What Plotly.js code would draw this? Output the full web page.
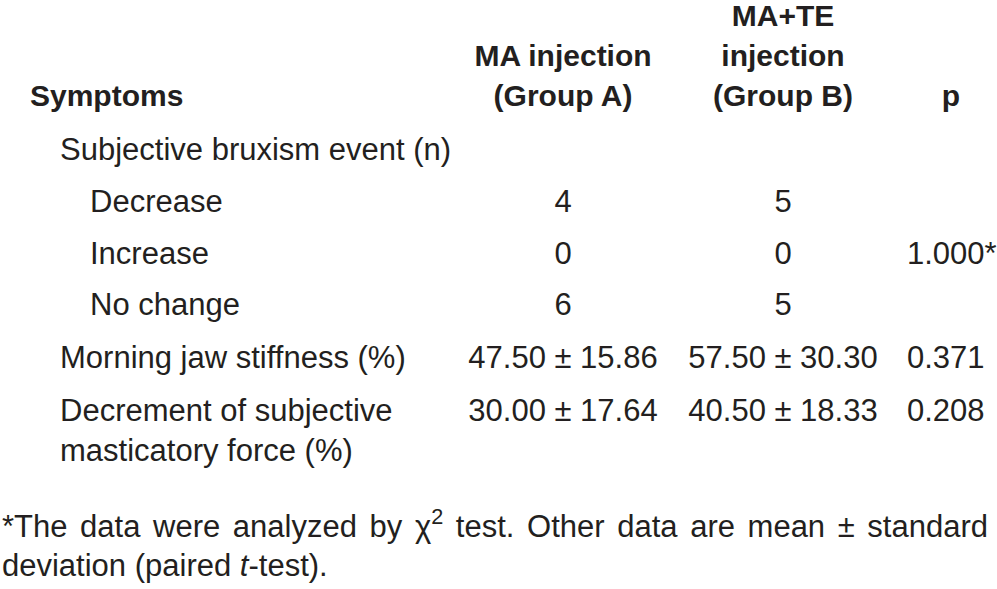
<!DOCTYPE html>
<html>
<head>
<meta charset="utf-8">
<script src="https://cdn.plot.ly/plotly-3.0.1.min.js"></script>
<style>
  html, body { margin: 0; padding: 0; background: #ffffff; }
  #chart { width: 997px; height: 589px; }
</style>
</head>
<body>
<div id="chart"></div>
<script>
// ---------- DATA ----------
const columnHeaders = ["Symptoms", "MA injection<br>(Group A)", "MA+TE<br>injection<br>(Group B)", "p"];
const symptoms = [
  "Subjective bruxism event (n)",
  "Decrease",
  "Increase",
  "No change",
  "Morning jaw stiffness (%)",
  "Decrement of subjective<br>masticatory force (%)"
];
const symptomLevel = [1, 2, 2, 2, 1, 1];
const groupA = ["", "4", "0", "6", "47.50 ± 15.86", "30.00 ± 17.64"];
const groupB = ["", "5", "0", "5", "57.50 ± 30.30", "40.50 ± 18.33"];
const pValues = ["", "", "1.000*", "", "0.371", "0.208"];
const footnoteLine1 = "*The data were analyzed by χ<sup>2</sup> test. Other data are mean ± standard";
const footnoteLine2 = "deviation (paired <i>t</i>-test).";

// ---------- LAYOUT (pixel-like axis units) ----------
const W = 997, H = 589;
const FONT = "'Liberation Sans', Arial, Helvetica, sans-serif";
const INK = "#231f20";
const headerLineY = [18, 58, 98];            // top..bottom header line centers
const rowY = [152, 204, 256, 307, 360, 413]; // first-line centers of body rows
const lineStep = 41;
const indentX = {0: 30, 1: 60, 2: 90};
const colAX = 563, colBX = 783, pHeaderX = 951, pValueX = 907;

const traces = [];

// header lines (bottom aligned)
const headerX = [indentX[0], colAX, colBX, pHeaderX];
const hx = [], hy = [], ht = [], hp = [];
columnHeaders.forEach((h, ci) => {
  const lines = h.split("<br>");
  lines.forEach((ln, li) => {
    const fromBottom = lines.length - 1 - li;
    hx.push(headerX[ci]);
    hy.push(headerLineY[headerLineY.length - 1 - fromBottom]);
    ht.push(ln);
    hp.push(ci === 0 ? "middle right" : "middle center");
  });
});
traces.push({
  type: "scatter", mode: "text", x: hx, y: hy, text: ht, textposition: hp,
  textfont: {family: FONT, size: 30, color: INK, weight: "bold"},
  hoverinfo: "skip", cliponaxis: false, showlegend: false
});

// symptom column
traces.push({
  type: "scatter", mode: "text",
  x: symptoms.map((s, i) => indentX[symptomLevel[i]]),
  y: symptoms.map((s, i) => rowY[i] + (s.split("<br>").length - 1) * lineStep / 2),
  text: symptoms, textposition: "middle right",
  textfont: {family: FONT, size: 31, color: INK},
  hoverinfo: "skip", cliponaxis: false, showlegend: false
});

// value columns (empty cells are skipped)
function valueTrace(vals, xpos, pos) {
  const idx = vals.map((v, i) => i).filter(i => vals[i] !== "");
  return {
    type: "scatter", mode: "text",
    x: idx.map(() => xpos), y: idx.map(i => rowY[i]), text: idx.map(i => vals[i]),
    textposition: pos,
    textfont: {family: FONT, size: 31, color: INK},
    hoverinfo: "skip", cliponaxis: false, showlegend: false
  };
}
traces.push(valueTrace(groupA, colAX, "middle center"));
traces.push(valueTrace(groupB, colBX, "middle center"));
traces.push(valueTrace(pValues, pValueX, "middle right"));

const layout = {
  width: W, height: H,
  margin: {l: 0, r: 0, t: 0, b: 0},
  paper_bgcolor: "#ffffff", plot_bgcolor: "#ffffff",
  xaxis: {range: [0, W], visible: false, fixedrange: true},
  yaxis: {range: [H, 0], visible: false, fixedrange: true},
  showlegend: false,
  annotations: [
    {xref: "paper", yref: "y", x: 0, y: 524, xanchor: "left", yanchor: "middle",
     text: '<span style="word-spacing:4px">' + footnoteLine1 + '</span>', showarrow: false,
     font: {family: FONT, size: 31, color: INK}, align: "left"},
    {xref: "paper", yref: "y", x: 0, y: 565, xanchor: "left", yanchor: "middle",
     text: footnoteLine2, showarrow: false,
     font: {family: FONT, size: 31, color: INK}, align: "left"}
  ]
};

Plotly.newPlot("chart", traces, layout, {displayModeBar: false, staticPlot: true});
</script>
</body>
</html>
